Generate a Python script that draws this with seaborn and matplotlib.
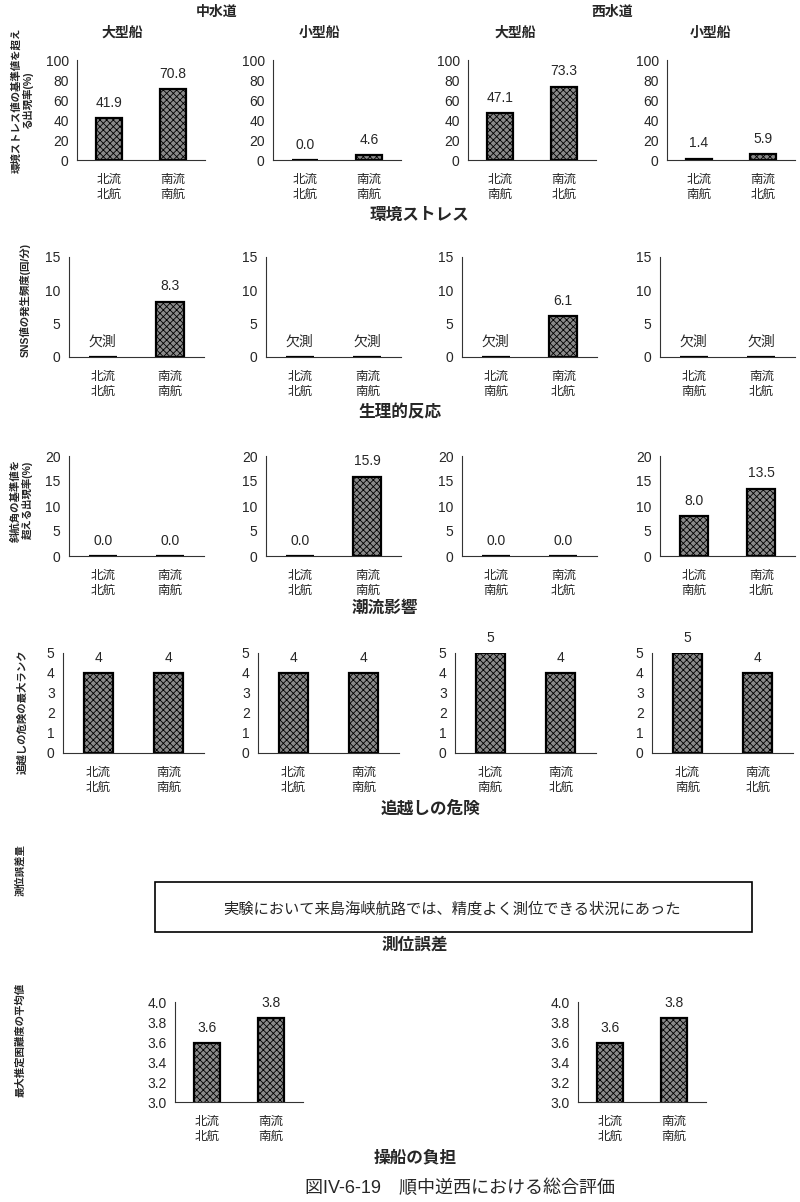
import numpy as np
import pandas as pd
import matplotlib
matplotlib.use('Agg')
import matplotlib.pyplot as plt
from matplotlib.patches import Rectangle
import seaborn as sns

# Category labels
cat_ns = ['北流\n北航', '南流\n南航']   # 中水道
cat_sn = ['北流\n南航', '南流\n北航']   # 西水道

# 環境ストレス (%)
stress = [[41.9, 70.8], [0.0, 4.6], [47.1, 73.3], [1.4, 5.9]]
# 生理的反応 SNS (回/分), None = 欠測
sns_freq = [[None, 8.3], [None, None], [None, 6.1], [None, None]]
# 潮流影響 (%)
drift = [[0.0, 0.0], [0.0, 15.9], [0.0, 0.0], [8.0, 13.5]]
# 追越しの危険 最大ランク
overtake = [[4, 4], [4, 4], [5, 4], [5, 4]]
# 操船の負担 (中水道 大型船, 西水道 大型船)
burden = [[3.59, 3.84], [3.59, 3.84]]

col_cats = [cat_ns, cat_ns, cat_sn, cat_sn]

sns.set_style("white")
plt.rcParams['font.family'] = ['Liberation Sans', 'Noto Sans CJK JP']
plt.rcParams['hatch.linewidth'] = 0.6

W, H = 800, 1202
fig = plt.figure(figsize=(8, 12.02), dpi=100)


def axpx(l, t, w, h):
    return fig.add_axes([l / W, 1 - (t + h) / H, w / W, h / H])


def draw(ax, cats, vals, ymax, step, tfmt, vfmt, ymin=0):
    y = [0 if v is None else v for v in vals]
    df = pd.DataFrame({'cat': cats, 'val': y})
    sns.barplot(data=df, x='cat', y='val', ax=ax, order=cats, color='#8a8a8a',
                saturation=1, width=0.41, edgecolor='black', linewidth=1.6,
                hatch='xxxxx')
    ax.set_xlim(-0.5, 1.5)
    ax.set_ylim(ymin, ymax)
    ticks = np.arange(ymin, ymax + step / 2, step)
    ax.set_yticks(ticks)
    ax.set_yticklabels([tfmt.format(t) for t in ticks], fontsize=10)
    ax.set_xlabel('')
    ax.set_ylabel('')
    ax.set_xticks([0, 1])
    ax.set_xticklabels(cats, fontsize=9, linespacing=1.3)
    ax.set_xticks([-0.5, 0.5, 1.5], minor=True)
    ax.tick_params(axis='x', which='major', length=0, pad=10)
    ax.tick_params(axis='x', which='minor', length=3, direction='in', color='#444')
    ax.tick_params(axis='y', length=3, direction='in', color='#444', pad=6)
    for s in ['top', 'right']:
        ax.spines[s].set_visible(False)
    for s in ['left', 'bottom']:
        ax.spines[s].set_color('#333')
        ax.spines[s].set_linewidth(0.8)
    for i, v in enumerate(vals):
        txt = '欠測' if v is None else vfmt.format(v)
        base = ymin if v is None or v < ymin else v
        ax.annotate(txt, (i, base), xytext=(0, 6), textcoords='offset points',
                    ha='center', va='bottom', fontsize=10, clip_on=False)


lefts_r1 = [77, 273, 468, 667]
lefts_r2 = [69, 266, 462, 660]
lefts_r4 = [63, 258, 455, 652]

for c in range(4):
    draw(axpx(lefts_r1[c], 60, 128, 100), col_cats[c], stress[c], 100, 20, '{:.0f}', '{:.1f}')
    draw(axpx(lefts_r2[c], 257, 135, 100), col_cats[c], sns_freq[c], 15, 5, '{:.0f}', '{:.1f}')
    draw(axpx(lefts_r2[c], 456, 135, 100), col_cats[c], drift[c], 20, 5, '{:.0f}', '{:.1f}')
    draw(axpx(lefts_r4[c], 653, 141, 100), col_cats[c], overtake[c], 5, 1, '{:.0f}', '{:d}')

draw(axpx(175, 1002, 128, 100), cat_ns, burden[0], 4.0, 0.2, '{:.1f}', '{:.1f}', ymin=3.0)
draw(axpx(578, 1002, 128, 100), cat_ns, burden[1], 4.0, 0.2, '{:.1f}', '{:.1f}', ymin=3.0)


def ftext(x, y, s, **kw):
    fig.text(x / W, 1 - y / H, s, **kw)


# headings
ftext(217, 12, '中水道', ha='center', va='center', fontsize=10, fontweight='bold')
ftext(612, 12, '西水道', ha='center', va='center', fontsize=10, fontweight='bold')
for x, s in zip([122, 320, 515, 711], ['大型船', '小型船', '大型船', '小型船']):
    ftext(x, 33, s, ha='center', va='center', fontsize=10, fontweight='bold')

# section labels
for x, y, s in [(419, 215, '環境ストレス'), (400, 412, '生理的反応'), (385, 608, '潮流影響'),
                (431, 808, '追越しの危険'), (415, 945, '測位誤差'), (415, 1158, '操船の負担')]:
    ftext(x, y, s, ha='center', va='center', fontsize=12, fontweight='bold')

# y labels
for x, y, s in [(22, 100, '環境ストレス値の基準値を超え\nる出現率(%)'),
                (25, 300, 'SNS値の発生頻度(回/分)'),
                (22, 500, '斜航角の基準値を\n超える出現率(%)'),
                (22, 712, '追越しの危険の最大ランク'),
                (20, 870, '測位誤差量'),
                (20, 1040, '最大推定困難度の平均値')]:
    ftext(x, y, s, ha='center', va='center', rotation=90, fontsize=7.5,
          fontweight='bold', linespacing=1.1)

# text box for 測位誤差
fig.patches.append(Rectangle((155 / W, 1 - 932 / H), (752 - 155) / W, 50 / H,
                             transform=fig.transFigure, fill=False,
                             edgecolor='black', linewidth=1.2))
ftext(452, 909, '実験において来島海峡航路では、精度よく測位できる状況にあった',
      ha='center', va='center', fontsize=11)

# caption
ftext(460, 1188, '図IV-6-19　順中逆西における総合評価', ha='center', va='center', fontsize=13)

fig.savefig('out.png', dpi=100)
